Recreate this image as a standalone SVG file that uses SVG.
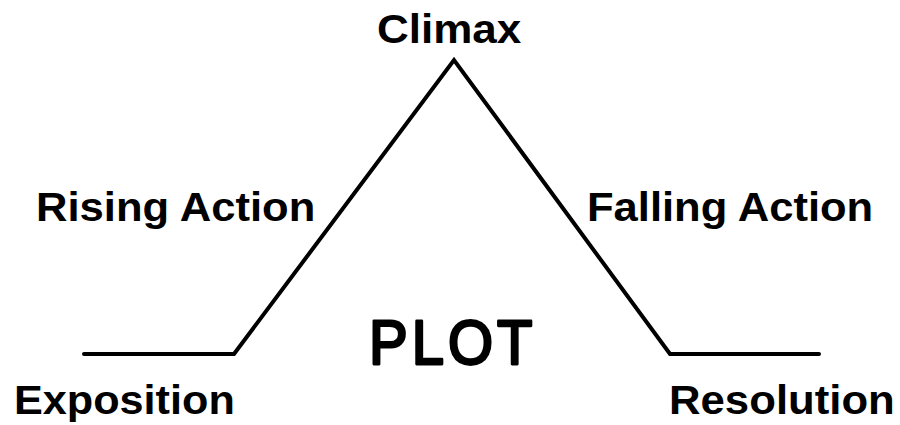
<svg xmlns="http://www.w3.org/2000/svg" width="900" height="425" viewBox="0 0 900 425">
<style>
.lbl{font-family:"Liberation Sans",Arial,sans-serif;font-weight:bold;font-size:40px;fill:#000}
.plot{font-family:"Comic Sans MS","Liberation Sans",sans-serif;font-weight:normal;font-size:58px;letter-spacing:4px;fill:#000;stroke:#000;stroke-width:2.5;stroke-linejoin:round;stroke-linecap:round}
.ln{fill:none;stroke:#000;stroke-width:4;stroke-linecap:round;stroke-linejoin:miter}
</style>
<rect width="900" height="425" fill="#fff"/>
<g id="connectors">
<polyline class="ln" points="84,354 234,354 454,60 670,354 819,354"/>
</g>
<g id="climax"><text class="lbl" transform="translate(377,43) scale(1.1,1)">Climax</text></g>
<g id="rising"><text class="lbl" transform="translate(36,221) scale(1.09,1)">Rising Action</text></g>
<g id="falling"><text class="lbl" transform="translate(587,221) scale(1.089,1)">Falling Action</text></g>
<g id="exposition"><text class="lbl" transform="translate(14,414) scale(1.08,1)">Exposition</text></g>
<g id="resolution"><text class="lbl" transform="translate(669,414) scale(1.093,1)">Resolution</text></g>
<g id="plot"><text class="plot" transform="translate(369,364) scale(1,1.1)">PLOT</text></g>
</svg>
